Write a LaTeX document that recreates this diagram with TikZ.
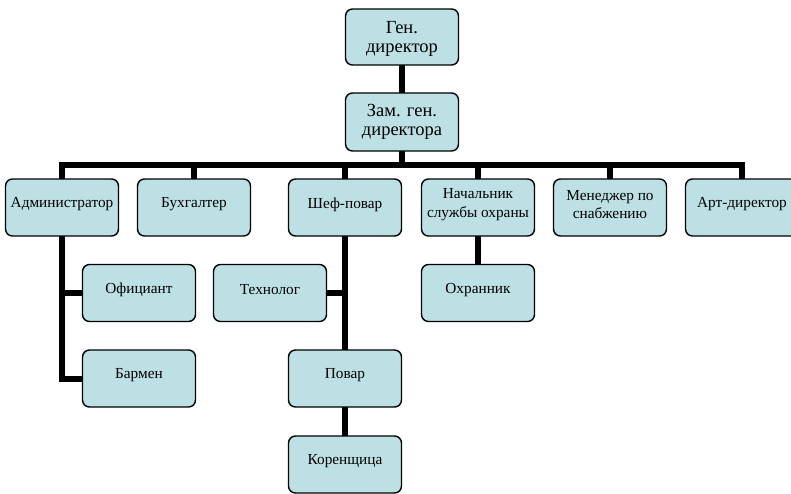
\documentclass[tikz,border=0pt]{standalone}
\usepackage{fontspec}
\setmainfont{Liberation Serif}
\definecolor{boxfill}{RGB}{188,224,228}
\begin{document}
\begin{tikzpicture}[x=1pt,y=-1pt,
  boxbase/.style={draw=black, line width=1.4pt, fill=boxfill, rounded corners=7pt,
    minimum width=113pt, inner sep=0pt},
  topbox/.style={boxbase, minimum height=57pt, align=center,
    font=\fontsize{18.5}{19}\selectfont},
  box/.style={boxbase, minimum height=57pt, label={[txt]center:#1}},
  txt/.style={align=center, yshift=3pt, inner sep=0pt,
    font=\fontsize{15.3}{18.5}\selectfont},
  conn/.style={draw=black, line width=6pt}]
\useasboundingbox (0,0) rectangle (791,493);
\coordinate (bus) at (402,165);
\coordinate (gpos) at (402,37);
\coordinate (zpos) at (402,122);
\coordinate (admpos) at (62,207.5);
\coordinate (buhpos) at (194,207.5);
\coordinate (chefpos) at (345,207.5);
\coordinate (ohrpos) at (478,207.5);
\coordinate (menpos) at (610,207.5);
\coordinate (artpos) at (742,207.5);
\coordinate (oficpos) at (139,293);
\coordinate (techpos) at (270,293);
\coordinate (guardpos) at (478,293);
\coordinate (barmpos) at (139,378.5);
\coordinate (povarpos) at (345,378.5);
\coordinate (korpos) at (345,464.5);

\draw[conn] (gpos) -- (bus);
\draw[conn] (bus) -| (admpos);
\draw[conn] (bus) -| (artpos);
\draw[conn] (bus) -| (buhpos);
\draw[conn] (bus) -| (chefpos);
\draw[conn] (bus) -| (ohrpos);
\draw[conn] (bus) -| (menpos);
\draw[conn] (admpos) |- (oficpos);
\draw[conn] (admpos) |- (barmpos);
\draw[conn] (chefpos) |- (techpos);
\draw[conn] (chefpos) -- (korpos);
\draw[conn] (ohrpos) -- (guardpos);

\node[topbox, minimum height=56pt, text depth=0pt] (gen) at (gpos) {Ген.\\директор};
\node[topbox, minimum height=58pt] (zam) at (zpos) {Зам. ген.\\директора};
\node[box={Администратор}] (adm) at (admpos) {};
\node[box={Бухгалтер}] (buh) at (buhpos) {};
\node[box={Шеф-повар}] (chef) at (chefpos) {};
\node[box={Начальник\\службы охраны}] (ohr) at (ohrpos) {};
\node[box={Менеджер по\\снабжению}] (men) at (menpos) {};
\node[box={Арт-директор}] (art) at (artpos) {};
\node[box={Официант}] (ofic) at (oficpos) {};
\node[box={Технолог}] (tech) at (techpos) {};
\node[box={Охранник}] (guard) at (guardpos) {};
\node[box={Бармен}] (barm) at (barmpos) {};
\node[box={Повар}] (povar) at (povarpos) {};
\node[box={Коренщица}] (kor) at (korpos) {};
\end{tikzpicture}
\end{document}
